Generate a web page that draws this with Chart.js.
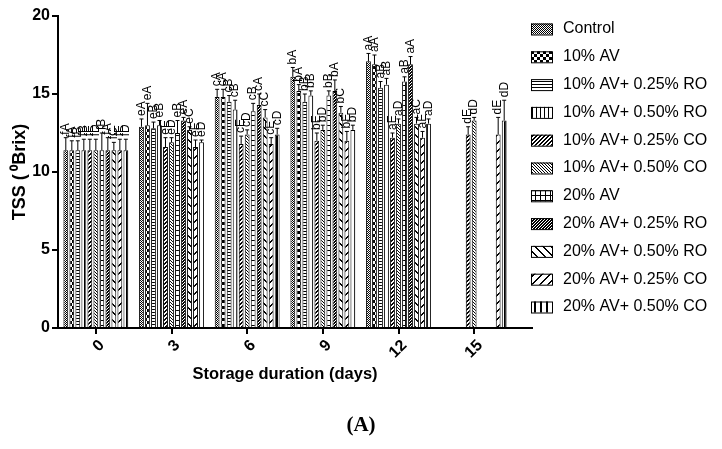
<!DOCTYPE html>
<html>
<head>
<meta charset="utf-8">
<script src="https://cdn.jsdelivr.net/npm/chart.js@4.4.0/dist/chart.umd.min.js"></script>
<style>
  body { margin: 0; background: #fff; }
  #wrap { width: 722px; height: 449px; }
</style>
</head>
<body>
<div id="wrap"><canvas id="tssChart" width="722" height="449"></canvas></div>
<script>
// storage days on the x axis
var days = ['0', '3', '6', '9', '12', '15'];
var yTicks = [0, 5, 10, 15, 20];

var treatments = [
  'Control', '10% AV', '10% AV+ 0.25% RO', '10% AV+ 0.50% RO',
  '10% AV+ 0.25% CO', '10% AV+ 0.50% CO', '20% AV',
  '20% AV+ 0.25% RO', '20% AV+ 0.50% RO', '20% AV+ 0.25% CO', '20% AV+ 0.50% CO'
];

// TSS means (oBrix), one array per treatment
var control   = [11.4, 12.9, 14.8, 16.1, 17.1, null];
var av10      = [11.4, 13.0, 14.8, 15.2, 16.9, null];
var av10ro25  = [11.4, 12.8, 14.5, 14.5, 15.4, null];
var av10ro50  = [11.4, 13.0, 14.0, 14.9, 15.6, null];
var av10co25  = [11.4, 11.6, 11.8, 12.0, 12.2, 12.4];
var av10co50  = [11.4, 11.9, 12.4, 12.7, 13.1, 13.3];
var av20      = [11.4, 12.5, 13.9, 14.9, 15.8, null];
var av20ro25  = [11.4, 13.3, 14.3, 15.2, 16.9, null];
var av20ro50  = [11.4, 12.7, 13.5, 13.8, 13.1, null];
var av20co25  = [11.4, 11.6, 11.8, 12.0, 12.2, 12.4];
var av20co50  = [11.4, 11.9, 12.4, 12.7, 13.1, 13.3];

// error bars (upper half only)
var controlErr  = [0.8, 0.5, 0.5, 0.6, 0.5, null];
var av10Err     = [0.6, 1.4, 0.5, 0.4, 0.6, null];
var av10ro25Err = [0.6, 0.4, 0.4, 0.5, 0.4, null];
var av10ro50Err = [0.7, 0.3, 0.6, 0.3, 0.4, null];
var av10co25Err = [0.7, 0.6, 0.5, 0.5, 0.3, 0.5];
var av10co50Err = [0.7, 0.3, 0.3, 0.3, 0.3, 0.2];
var av20Err     = [1.1, 0.8, 0.5, 0.3, 0.3, null];
var av20ro25Err = [0.8, 0.2, 0.7, 0.7, 0.5, null];
var av20ro50Err = [0.5, 0.2, 0.5, 0.4, 0.4, null];
var av20co25Err = [0.7, 0.45, 0.4, 0.6, 0.4, 1.1];
var av20co50Err = [0.7, 0.15, 0.4, 0.3, 0.3, 1.3];

// significance letters
var controlSig  = ['fA', 'eA', 'cA', 'bA', 'aA', null];
var av10Sig     = ['fA', 'eA', 'cA', 'bA', 'aA', null];
var av10ro25Sig = ['fB', 'eB', 'cB', 'bB', 'aB', null];
var av10ro50Sig = ['fB', 'eB', 'cB', 'bB', 'aB', null];
var av10co25Sig = ['fE', 'eE', 'cE', 'bE', 'aE', 'dE'];
var av10co50Sig = ['fD', 'eD', 'cD', 'bD', 'aD', 'dD'];
var av20Sig     = ['fB', 'eB', 'cB', 'bB', 'aB', null];
var av20ro25Sig = ['fA', 'eA', 'cA', 'bA', 'aA', null];
var av20ro50Sig = ['fC', 'eC', 'cC', 'bC', 'aC', null];
var av20co25Sig = ['fE', 'eE', 'cE', 'bE', 'aE', 'dE'];
var av20co50Sig = ['fD', 'eD', 'cD', 'bD', 'aD', 'dD'];

var means = [control, av10, av10ro25, av10ro50, av10co25, av10co50, av20, av20ro25, av20ro50, av20co25, av20co50];
var errs = [controlErr, av10Err, av10ro25Err, av10ro50Err, av10co25Err, av10co50Err, av20Err, av20ro25Err, av20ro50Err, av20co25Err, av20co50Err];
var sigs = [controlSig, av10Sig, av10ro25Sig, av10ro50Sig, av10co25Sig, av10co50Sig, av20Sig, av20ro25Sig, av20ro50Sig, av20co25Sig, av20co50Sig];

var canvas = document.getElementById('tssChart');
var ctx = canvas.getContext('2d');

// black and white fill patterns like the prism figure
function makePattern(size, draw) {
  var c = document.createElement('canvas');
  c.width = size;
  c.height = size;
  var p = c.getContext('2d');
  p.fillStyle = '#fff';
  p.fillRect(0, 0, size, size);
  p.fillStyle = '#000';
  draw(p, size);
  return ctx.createPattern(c, 'repeat');
}

function diag(p, size, thick, back) {
  for (var i = 0; i < size; i++) {
    for (var k = 0; k < thick; k++) {
      var x = (i + k) % size;
      var y = back ? i : size - 1 - i;
      p.fillRect(x, y, 1, 1);
    }
  }
}

var patterns = [
  makePattern(2, function(p) { p.fillRect(0, 0, 1, 1); p.fillRect(1, 1, 1, 1); }),
  makePattern(6, function(p) { p.fillRect(0, 0, 3, 3); p.fillRect(3, 3, 3, 3); }),
  makePattern(3, function(p, s) { p.fillRect(0, 0, s, 1); }),
  makePattern(4, function(p, s) { p.fillRect(0, 0, 1, s); }),
  makePattern(4, function(p, s) { diag(p, s, 2, false); }),
  makePattern(3, function(p, s) { diag(p, s, 1, true); }),
  makePattern(5, function(p, s) { p.fillRect(0, 0, s, 1); p.fillRect(0, 0, 1, s); }),
  makePattern(3, function(p, s) { diag(p, s, 2, false); }),
  makePattern(8, function(p, s) { diag(p, s, 2, true); }),
  makePattern(8, function(p, s) { diag(p, s, 2, false); }),
  makePattern(6, function(p, s) { p.fillRect(0, 0, 2, s); })
];

var datasets = treatments.map(function(name, i) {
  return {
    label: name,
    data: means[i],
    errors: errs[i],
    letters: sigs[i],
    backgroundColor: patterns[i],
    borderColor: '#000',
    borderWidth: 1
  };
});

// error bars + letters above each bar
var errorBarsPlugin = {
  id: 'errorBars',
  afterDatasetsDraw: function(chart) {
    var c = chart.ctx;
    var yScale = chart.scales.y;
    c.save();
    c.strokeStyle = '#000';
    c.fillStyle = '#000';
    c.lineWidth = 1;
    c.font = '12px Arial';
    chart.data.datasets.forEach(function(ds, di) {
      var meta = chart.getDatasetMeta(di);
      meta.data.forEach(function(bar, i) {
        var v = ds.data[i];
        if (v === null) return;
        var top = yScale.getPixelForValue(v + ds.errors[i]);
        c.beginPath();
        c.moveTo(bar.x, bar.y);
        c.lineTo(bar.x, top);
        c.moveTo(bar.x - 2, top);
        c.lineTo(bar.x + 2, top);
        c.stroke();
        c.save();
        c.translate(bar.x, top - 3);
        c.rotate(-Math.PI / 2);
        c.textAlign = 'left';
        c.textBaseline = 'middle';
        c.fillText(ds.letters[i], 0, 0);
        c.restore();
      });
    });
    c.restore();
  }
};

// legend on the right, axis tail and the (A) caption
var extrasPlugin = {
  id: 'extras',
  afterDraw: function(chart) {
    var c = chart.ctx;
    var area = chart.chartArea;
    c.save();
    // x axis line runs a bit past the last group
    c.strokeStyle = '#000';
    c.lineWidth = 2;
    c.beginPath();
    c.moveTo(area.right - 1, area.bottom);
    c.lineTo(533, area.bottom);
    c.stroke();

    c.lineWidth = 1;
    c.font = '16px Arial';
    c.textAlign = 'left';
    c.textBaseline = 'middle';
    chart.data.datasets.forEach(function(ds, i) {
      var y = 29 + i * 27.8;
      c.fillStyle = ds.backgroundColor;
      c.fillRect(531, y - 5.5, 21, 11);
      c.strokeStyle = '#000';
      c.strokeRect(531.5, y - 5, 21, 11);
      c.fillStyle = '#000';
      c.fillText(ds.label, 563, y);
    });

    c.font = 'bold 21px "Liberation Serif", "Times New Roman", serif';
    c.textAlign = 'center';
    c.fillText('(A)', 361, 426);
    c.restore();
  }
};

var axisFont = { family: 'Arial', size: 16, weight: 'bold' };

var tssChart = new Chart(ctx, {
  type: 'bar',
  data: {
    labels: days,
    datasets: datasets
  },
  options: {
    responsive: false,
    animation: false,
    layout: { padding: { left: 0, right: 210, top: 16, bottom: 65 } },
    datasets: { bar: { categoryPercentage: 0.873, barPercentage: 0.8 } },
    plugins: {
      legend: { display: false },
      tooltip: { enabled: false }
    },
    scales: {
      x: {
        grid: { display: true, offset: false, drawOnChartArea: false, color: '#000', lineWidth: 2, tickLength: 6 },
        border: { color: '#000', width: 2 },
        ticks: { color: '#000', font: axisFont, minRotation: 45, maxRotation: 45, padding: 2, labelOffset: 6 },
        title: { display: true, text: 'Storage duration (days)', color: '#000', font: { family: 'Arial', size: 16.5, weight: 'bold' }, padding: { top: 0, bottom: 0 } },
        afterFit: function(s) { s.height = 56; }
      },
      y: {
        min: 0,
        max: 20,
        afterBuildTicks: function(s) {
          s.ticks = yTicks.map(function(v) { return { value: v }; });
        },
        grid: { drawOnChartArea: false, color: '#000', lineWidth: 2, tickLength: 6 },
        border: { color: '#000', width: 2 },
        ticks: { color: '#000', font: axisFont, padding: 2 },
        title: { display: true, text: 'TSS (\u2009\u2070Brix)', color: '#000', font: { family: 'Arial', size: 18, weight: 'bold' }, padding: { top: 9, bottom: 0 } },
        afterFit: function(s) { s.width = 58; }
      }
    }
  },
  plugins: [errorBarsPlugin, extrasPlugin]
});
</script>
</body>
</html>
